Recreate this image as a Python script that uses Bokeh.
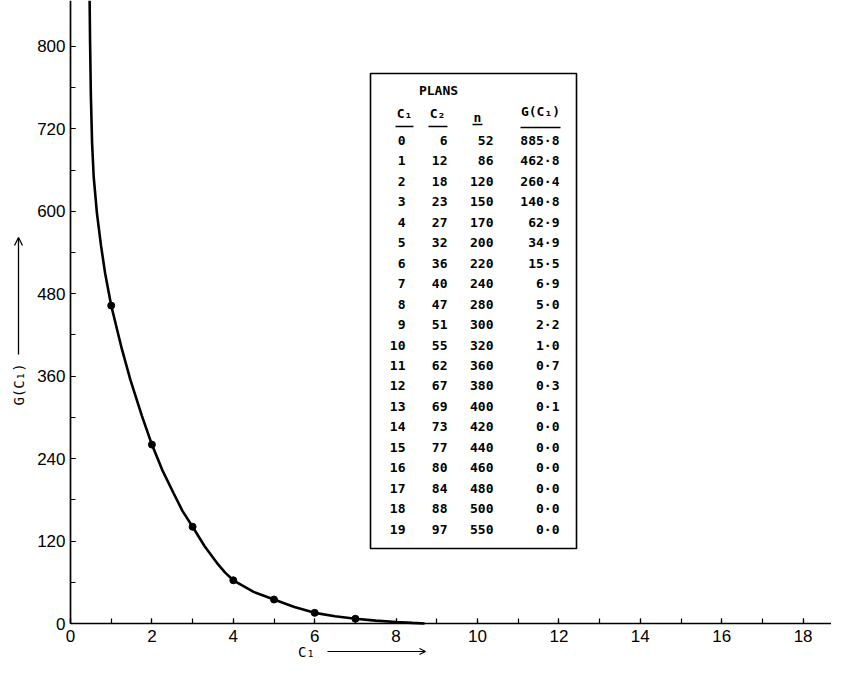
from math import pi
from bokeh.plotting import figure
from bokeh.models import FixedTicker, Label, Arrow, OpenHead
from bokeh.core.properties import value
from bokeh.embed import file_html
from bokeh.resources import INLINE

# ---------------- data ----------------
table_c1 = list(range(20))
table_c2 = [6, 12, 18, 23, 27, 32, 36, 40, 47, 51, 55, 62, 67, 69, 73, 77, 80, 84, 88, 97]
table_n = [52, 86, 120, 150, 170, 200, 220, 240, 280, 300, 320, 360, 380, 400, 420, 440,
           460, 480, 500, 550]
table_g = [885.8, 462.8, 260.4, 140.8, 62.9, 34.9, 15.5, 6.9, 5.0, 2.2, 1.0, 0.7, 0.3, 0.1,
           0.0, 0.0, 0.0, 0.0, 0.0, 0.0]

marked_c1 = [1, 2, 3, 4, 5, 6, 7]
marked_g = [462.8, 260.4, 140.8, 62.9, 34.9, 15.5, 6.9]

# hand-drawn fitted curve
curve_c1 = [0.47, 0.48, 0.50, 0.53, 0.57, 0.65, 0.75, 0.85, 1.0, 1.26, 1.47, 1.75, 2.0, 2.25,
            2.53, 2.75, 3.0, 3.3, 3.6, 3.8, 4.0, 4.5, 5.0, 5.5, 6.0, 6.5, 7.0, 7.5, 8.0, 8.4, 8.7]
curve_g = [907, 850, 770, 700, 650, 597, 550, 510, 462.8, 400, 355, 303, 260.4, 224,
           190, 164, 140.8, 112, 88, 74, 62.9, 46, 34.9, 24, 15.5, 10.5, 6.9, 4.2, 2.2, 0.9, 0]

x_tick_values = [0, 2, 4, 6, 8, 10, 12, 14, 16, 18]
x_tick_labels = ["0", "2", "4", "6", "8", "10", "12", "14", "16", "18"]
x_minor_values = list(range(0, 19))
y_tick_values = [0, 120, 240, 360, 480, 600, 720, 840]
y_tick_labels = ["0", "120", "240", "360", "480", "600", "720", "800"]
y_minor_values = [0, 60, 120, 180, 240, 300, 360, 420, 480, 540, 600, 660, 720, 780, 840]

# ---------------- figure ----------------
W, H = 831, 660
OX, OY = 70, 623          # pixel position of the data origin
SX, SY = 40.7, 0.687      # pixels per data unit


def X(px):
    return (px - OX) / SX


def Y(py):
    return (OY - py) / SY


p = figure(width=W, height=H, x_range=(X(0), X(W)), y_range=(Y(H), Y(0)),
           output_backend="svg", toolbar_location=None,
           min_border_left=0, min_border_right=0, min_border_top=0,
           min_border_bottom=0)
p.grid.visible = False
p.outline_line_color = None
p.background_fill_color = "white"
p.border_fill_color = "white"

for ax in (p.xaxis, p.yaxis):
    ax.fixed_location = 0
    ax.axis_line_color = "black"
    ax.axis_line_width = 1.7
    ax.major_tick_line_color = "black"
    ax.minor_tick_line_color = "black"
    ax.major_tick_line_width = 1.2
    ax.minor_tick_line_width = 1.2
    ax.major_tick_in = 5
    ax.major_tick_out = 0
    ax.minor_tick_in = 5
    ax.minor_tick_out = 0
    ax.major_label_text_font = "Liberation Sans"
    ax.major_label_text_font_size = "17px"
    ax.major_label_text_color = "black"

p.xaxis.bounds = (0, X(W))
p.yaxis.bounds = (0, Y(0))
p.xaxis.ticker = FixedTicker(ticks=x_tick_values, minor_ticks=x_minor_values)
p.xaxis.major_label_overrides = {v: l for v, l in zip(x_tick_values, x_tick_labels)}
p.xaxis.major_label_standoff = 6
p.yaxis.ticker = FixedTicker(ticks=y_tick_values, minor_ticks=y_minor_values)
p.yaxis.major_label_overrides = {v: l for v, l in zip(y_tick_values, y_tick_labels)}
p.yaxis.major_label_standoff = 5

# curve and marked points
p.line(curve_c1, curve_g, line_color="black", line_width=2.6)
p.scatter(marked_c1, marked_g, size=7, fill_color="black", line_color="black")

# ---------------- table ----------------
p.quad(left=[X(370)], right=[X(576)], top=[Y(73)], bottom=[Y(548)],
       fill_color="white", line_color="black", line_width=1.6)

font = value("DejaVu Sans Mono")
row_y = [Y(140 + 20.45 * i) for i in range(len(table_c1))]
cols = [
    (405, [str(v) for v in table_c1]),
    (447, [str(v) for v in table_c2]),
    (493, [str(v) for v in table_n]),
    (559, [f"{v:.1f}".replace(".", "·") for v in table_g]),
]
for px, texts in cols:
    p.text(x=[X(px)] * len(texts), y=row_y, text=texts, text_align="right",
           text_baseline="middle", text_font=font, text_font_size="13px",
           text_font_style="bold", text_color="black")

headers = ["PLANS", "C₁", "C₂", "n", "G(C₁)"]
hx = [438, 404, 437, 477, 540]
hy = [90, 113, 113, 117, 111]
p.text(x=[X(v) for v in hx], y=[Y(v) for v in hy], text=headers, text_align="center",
       text_baseline="middle", text_font=font, text_font_size="13px",
       text_font_style="bold", text_color="black")
ul_x0 = [395, 428, 472, 520]
ul_x1 = [413, 447, 482, 560]
ul_y = [126, 126, 124, 127]
p.segment(x0=[X(v) for v in ul_x0], x1=[X(v) for v in ul_x1],
          y0=[Y(v) for v in ul_y], y1=[Y(v) for v in ul_y],
          line_color="black", line_width=1.4)

# ---------------- axis titles with arrows ----------------
p.add_layout(Label(x=X(18), y=Y(384), text="G(C₁)", angle=pi / 2,
                   text_align="center", text_baseline="middle",
                   text_font="DejaVu Sans Mono", text_font_size="14px",
                   text_color="black"))
p.add_layout(Arrow(x_start=X(18), y_start=Y(354), x_end=X(18), y_end=Y(237),
                   line_width=1.3, line_color="black",
                   end=OpenHead(size=8, line_width=1.3, line_color="black")))

p.add_layout(Label(x=X(306), y=Y(651), text="C₁",
                   text_align="center", text_baseline="middle",
                   text_font="DejaVu Sans Mono", text_font_size="14px",
                   text_color="black"))
p.add_layout(Arrow(x_start=X(327), y_start=Y(651), x_end=X(425), y_end=Y(651),
                   line_width=1.2, line_color="black",
                   end=OpenHead(size=6, line_width=1.2, line_color="black")))

open("out.html", "w").write(file_html(p, INLINE))
